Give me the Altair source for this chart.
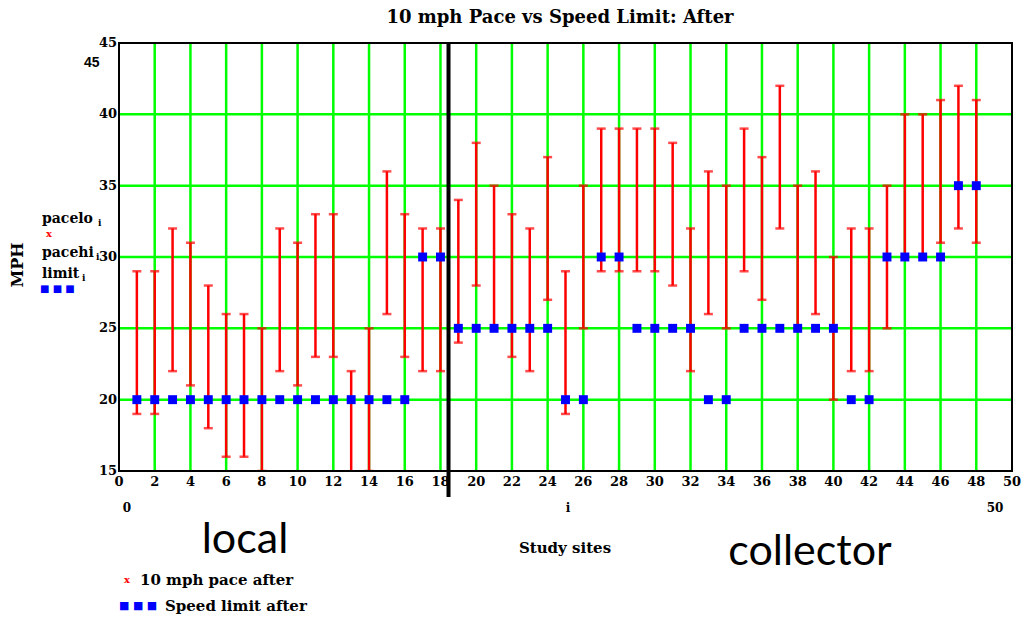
import altair as alt
import pandas as pd

# Study sites and their 10 mph pace bounds / posted speed limits (after)
sites = list(range(1, 49))
pace_lo = [19, 19, 22, 21, 18, 16, 16, 15, 22, 21, 23, 23, 12, 15, 26, 23, 22, 22,
           24, 28, 25, 23, 22, 27, 19, 25, 29, 29, 29, 29, 28, 22, 26, 25, 29, 27,
           32, 25, 26, 20, 22, 22, 25, 30, 30, 31, 32, 31]
pace_hi = [29, 29, 32, 31, 28, 26, 26, 25, 32, 31, 33, 33, 22, 25, 36, 33, 32, 32,
           34, 38, 35, 33, 32, 37, 29, 35, 39, 39, 39, 39, 38, 32, 36, 35, 39, 37,
           42, 35, 36, 30, 32, 32, 35, 40, 40, 41, 42, 41]
speed_limit = [20] * 16 + [30, 30] + [25] * 6 + [20, 20] + [30, 30] + [25] * 4 + \
              [20, 20] + [25] * 6 + [20, 20] + [30] * 4 + [35, 35]

x_ticks = list(range(0, 51, 2))
y_ticks = [15, 20, 25, 30, 35, 40, 45]
x_grid = list(range(2, 50, 2))
y_grid = [20, 25, 30, 35, 40]
divider_x = 18.45  # boundary between local and collector sites

W, H = 893, 428
SERIF = "DejaVu Serif"
GREEN = "#00ff00"

df = pd.DataFrame({"site": sites, "lo": pace_lo, "hi": pace_hi, "limit": speed_limit})

xs = alt.Scale(domain=[0, 50], nice=False, zero=False)
ys = alt.Scale(domain=[15, 45], nice=False, zero=False)


def X(field):
    return alt.X(field, scale=xs, axis=None)


def Y(field):
    return alt.Y(field, scale=ys, axis=None)


base = alt.Chart(df)

# grid lines
vgrid = alt.Chart(pd.DataFrame({"g": x_grid})).mark_rule(
    color=GREEN, strokeWidth=2.5).encode(x=X("g:Q"))
hgrid = alt.Chart(pd.DataFrame({"g": y_grid})).mark_rule(
    color=GREEN, strokeWidth=2.5).encode(y=Y("g:Q"))

# tick labels placed through the scales
x_labels = alt.Chart(pd.DataFrame({"t": x_ticks})).mark_text(
    font=SERIF, fontSize=13, fontWeight="bold", color="black",
    align="center", baseline="top").encode(
    x=X("t:Q"), y=alt.value(H + 5), text="t:Q")
y_labels = alt.Chart(pd.DataFrame({"t": y_ticks})).mark_text(
    font=SERIF, fontSize=13, fontWeight="bold", color="black",
    align="right", baseline="middle").encode(
    y=Y("t:Q"), x=alt.value(-2), text="t:Q")

bars = base.mark_rule(color="#ff0000", strokeWidth=2.5, clip=True).encode(
    x=X("site:Q"), y=Y("lo:Q"), y2="hi:Q")
caps_lo = base.mark_tick(color="#ff0000", orient="horizontal", size=9,
                         thickness=2.5, clip=True).encode(x=X("site:Q"), y=Y("lo:Q"))
caps_hi = base.mark_tick(color="#ff0000", orient="horizontal", size=9,
                         thickness=2.5, clip=True).encode(x=X("site:Q"), y=Y("hi:Q"))
limits = base.mark_square(color="#0000ff", size=80, opacity=1).encode(
    x=X("site:Q"), y=Y("limit:Q"))

divider = alt.Chart(pd.DataFrame({"x": [divider_x]})).mark_rule(
    color="black", strokeWidth=4).encode(
    x=X("x:Q"), y=alt.value(0), y2=alt.value(454))

frame = alt.Chart(pd.DataFrame({"k": [0]})).mark_rect(
    fill=None, stroke="black", strokeWidth=2).encode(
    x=alt.value(0), x2=alt.value(W), y=alt.value(0), y2=alt.value(H))


def label(text, x, y, size=14, font=SERIF, weight="bold", color="black",
          align="left", angle=0):
    kw = dict(text=text, font=font, fontSize=size, fontWeight=weight,
              color=color, align=align, baseline="middle")
    if angle:
        kw["angle"] = angle
    return alt.Chart(pd.DataFrame({"k": [0]})).mark_text(**kw).encode(
        x=alt.value(x), y=alt.value(y))


texts = [
    label("10 mph Pace vs Speed Limit: After", 441, -25, size=18, align="center"),
    label("45", -35, 20, size=14, font="Liberation Sans", align="left"),
    label("MPH", -101, 222, size=16, align="center", angle=270),
    label("pacelo", -77, 176, size=14),
    label("i", -21, 180, size=9),
    label("x", -73, 191, size=10, color="#ff0000"),
    label("pacehi", -77, 210, size=14),
    label("i", -23, 214, size=9),
    label("limit", -77, 231, size=14),
    label("i", -37, 235, size=9),
    label("■ ■ ■", -79, 246, size=10, color="#0000ff", weight="normal"),
    label("0", 8, 465, size=12, align="center"),
    label("i", 449, 465, size=12, align="center"),
    label("50", 876, 465, size=12, align="center"),
    label("local", 126, 497, size=43, font="Lato", weight="normal", align="center"),
    label("collector", 691, 509, size=43, font="Lato", weight="normal", align="center"),
    label("Study sites", 446, 505, size=15, align="center"),
    label("x", 5, 537, size=10, color="#ff0000"),
    label("10 mph pace after", 21, 537, size=15),
    label("■ ■ ■", 0, 563, size=11, color="#0000ff", weight="normal"),
    label("Speed limit after", 46, 563, size=15),
]

chart = alt.layer(vgrid, hgrid, bars, caps_lo, caps_hi, limits, divider, frame,
                  x_labels, y_labels, *texts).properties(
    width=W, height=H,
    autosize=alt.AutoSizeParams(type="none"),
    padding={"left": 119, "top": 43, "right": 13, "bottom": 150},
    background="white",
).configure_view(stroke=None)

chart.save("out.html", embed_options={"renderer": "svg", "actions": False})
